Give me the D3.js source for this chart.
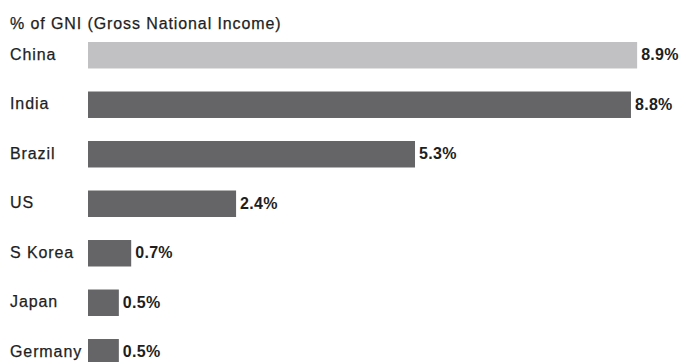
<!DOCTYPE html>
<html>
<head>
<meta charset="utf-8">
<script src="https://cdn.jsdelivr.net/npm/d3@7"></script>
<style>
  html, body { margin: 0; padding: 0; background: #fff; }
  svg { display: block; font-family: "Liberation Sans", Arial, Helvetica, sans-serif; }
</style>
</head>
<body>
<svg id="chart" width="680" height="362"></svg>
<script>
// Spending as share of Gross National Income, by country
const countries = ["China", "India", "Brazil", "US", "S Korea", "Japan", "Germany"];
const shares = [8.9, 8.8, 5.3, 2.4, 0.7, 0.5, 0.5];
const valueLabels = ["8.9%", "8.8%", "5.3%", "2.4%", "0.7%", "0.5%", "0.5%"];
const highlight = "China";

const svg = d3.select("#chart");

const x = d3.scaleLinear().domain([0, 10]).range([88, 705]);
const y = d3.scaleBand()
  .domain(countries)
  .range([42, 365.5])
  .paddingInner(0.465)
  .paddingOuter(0);

const ink = "#1e1e1e";

svg.append("text")
  .attr("x", 10)
  .attr("y", 28.5)
  .attr("font-size", 16)
  .attr("letter-spacing", 0.9)
  .attr("fill", ink)
  .attr("stroke", ink)
  .attr("stroke-width", 0.25)
  .text("% of GNI (Gross National Income)");

const rows = svg.selectAll("g.row")
  .data(countries.map((c, i) => ({ c, v: shares[i], label: valueLabels[i] })))
  .join("g")
  .attr("class", "row");

rows.append("rect")
  .attr("x", x(0))
  .attr("y", d => y(d.c))
  .attr("width", d => x(d.v) - x(0))
  .attr("height", y.bandwidth())
  .attr("fill", d => d.c === highlight ? "#c1c1c3" : "#656567");

rows.append("text")
  .attr("x", 10)
  .attr("y", d => y(d.c) + y.bandwidth() / 2)
  .attr("dy", "0.27em")
  .attr("font-size", 16)
  .attr("letter-spacing", 0.9)
  .attr("fill", ink)
  .attr("stroke", ink)
  .attr("stroke-width", 0.25)
  .text(d => d.c);

rows.append("text")
  .attr("x", d => x(d.v) + 4)
  .attr("y", d => y(d.c) + y.bandwidth() / 2)
  .attr("dy", "0.3em")
  .attr("font-size", 16)
  .attr("font-weight", "bold")
  .attr("letter-spacing", 0.3)
  .attr("fill", ink)
  .text(d => d.label);
</script>
</body>
</html>
